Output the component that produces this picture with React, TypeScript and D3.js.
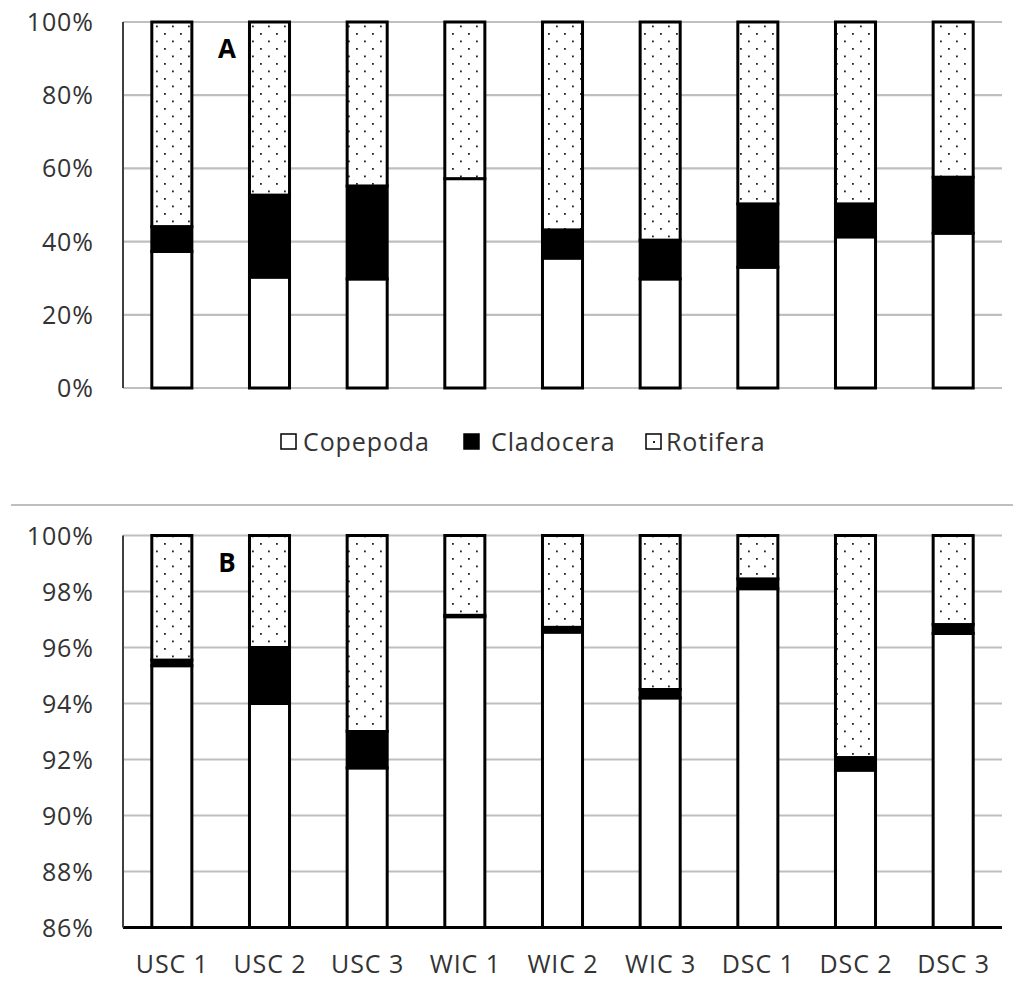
import * as d3 from 'd3';

const sites = ['USC 1', 'USC 2', 'USC 3', 'WIC 1', 'WIC 2', 'WIC 3', 'DSC 1', 'DSC 2', 'DSC 3'];
const groups = ['Copepoda', 'Cladocera', 'Rotifera'];

// panel A (percent of total)
const copepodaA = [37.3, 30.3, 29.8, 57.2, 35.5, 29.8, 33.0, 41.3, 42.3];
const cladoceraA = [6.8, 22.4, 25.4, 0.0, 7.7, 10.6, 17.3, 9.0, 15.3];

// panel B (percent of total)
const copepodaB = [95.35, 94.0, 91.7, 97.1, 96.55, 94.2, 98.1, 91.62, 96.5];
const cladoceraB = [0.2, 2.0, 1.3, 0.05, 0.17, 0.3, 0.35, 0.45, 0.32];

const ticksA = [0, 20, 40, 60, 80, 100];
const ticksB = [86, 88, 90, 92, 94, 96, 98, 100];

const W = 1013;
const H = 989;
const FONT = '"Open Sans", "Noto Sans", sans-serif';
const TXT = '#333';
const GRID = '#bfbfbf';
const FS = 25;
const LS = 0.9;

const x = d3
	.scaleBand<string>()
	.domain(sites)
	.range([123, 1002])
	.paddingInner(0.59)
	.paddingOuter(0.295);

function Panel({
	cop,
	clad,
	ticks,
	top,
	bottom,
	letter,
	blackBase,
	showX,
}: {
	cop: number[];
	clad: number[];
	ticks: number[];
	top: number;
	bottom: number;
	letter: string;
	blackBase: boolean;
	showX: boolean;
}) {
	const lo = ticks[0];
	const hi = ticks[ticks.length - 1];
	const y = d3.scaleLinear().domain([lo, hi]).range([bottom, top]);
	const [x0, x1] = x.range();
	const bw = x.bandwidth();
	const clampY = (v: number) => y(Math.max(lo, Math.min(hi, v)));

	return (
		<g>
			{ticks.map((t) => (
				<g key={t}>
					<line
						x1={x0}
						x2={x1}
						y1={y(t)}
						y2={y(t)}
						stroke={t === lo && blackBase ? '#000' : GRID}
						strokeWidth={t === lo && blackBase ? 3 : 2.2}
					/>
					<text
						x={93 + LS}
						y={y(t)}
						dy="0.36em"
						textAnchor="end"
						fontSize={FS}
						letterSpacing={LS}
						fill={TXT}
						fontFamily={FONT}
					>
						{t}%
					</text>
				</g>
			))}
			<line x1={x0} x2={x0} y1={top} y2={bottom} stroke="#404040" strokeWidth={2} />
			{sites.map((s, i) => {
				const c = cop[i];
				const cl = clad[i];
				const xs = x(s)!;
				const segs = [
					{ from: lo, to: c, fill: '#fff' },
					{ from: c, to: c + cl, fill: '#000' },
					{ from: c + cl, to: hi, fill: 'url(#dots)' },
				];
				return (
					<g key={s}>
						{segs.map((sg, k) => {
							const yTop = clampY(sg.to);
							const yBot = clampY(sg.from);
							return (
								<rect
									key={k}
									x={xs}
									y={yTop}
									width={bw}
									height={Math.max(0, yBot - yTop)}
									fill={sg.fill}
									stroke="#000"
									strokeWidth={3}
								/>
							);
						})}
						{showX && (
							<text
								x={xs + bw / 2 + LS / 2}
								y={973}
								textAnchor="middle"
								fontSize={FS}
								letterSpacing={LS}
								fill={TXT}
								fontFamily={FONT}
							>
								{s}
							</text>
						)}
					</g>
				);
			})}
			<text
				x={227}
				y={top + 36}
				textAnchor="middle"
				fontSize={26}
				fontWeight="bold"
				fill="#000"
				fontFamily={FONT}
			>
				{letter}
			</text>
		</g>
	);
}

const legendBoxX = [281, 464, 646];
const legendTextX = [303, 491, 666];
const legendFill = ['#fff', '#000', 'url(#dotsSmall)'];

export default function App() {
	return (
		<svg
			width={W}
			height={H}
			style={{ position: 'absolute', left: 0, top: 0, background: '#fff' }}
		>
			<defs>
				<pattern id="dots" width={16} height={15} patternUnits="userSpaceOnUse">
					<rect width={16} height={15} fill="#fff" />
					<rect x={4} y={3} width={1.8} height={1.8} fill="#222" />
					<rect x={12} y={10.5} width={1.8} height={1.8} fill="#222" />
				</pattern>
				<pattern id="dotsSmall" width={16} height={16} patternUnits="userSpaceOnUse" x={646} y={434}>
					<rect width={16} height={16} fill="#fff" />
					<rect x={7} y={7} width={2} height={2} fill="#222" />
				</pattern>
			</defs>
			<Panel
				cop={copepodaA}
				clad={cladoceraA}
				ticks={ticksA}
				top={22}
				bottom={388}
				letter="A"
				blackBase={false}
				showX={false}
			/>
			{groups.map((g, i) => (
				<g key={g}>
					<rect
						x={legendBoxX[i]}
						y={434}
						width={15}
						height={15}
						fill={legendFill[i]}
						stroke="#000"
						strokeWidth={1.5}
					/>
					<text
						x={legendTextX[i]}
						y={451}
						fontSize={FS}
						letterSpacing={LS}
						fill={TXT}
						fontFamily={FONT}
					>
						{g}
					</text>
				</g>
			))}
			<line x1={11} x2={W} y1={505} y2={505} stroke={GRID} strokeWidth={2.2} />
			<Panel
				cop={copepodaB}
				clad={cladoceraB}
				ticks={ticksB}
				top={535.5}
				bottom={927.5}
				letter="B"
				blackBase={true}
				showX={true}
			/>
		</svg>
	);
}
